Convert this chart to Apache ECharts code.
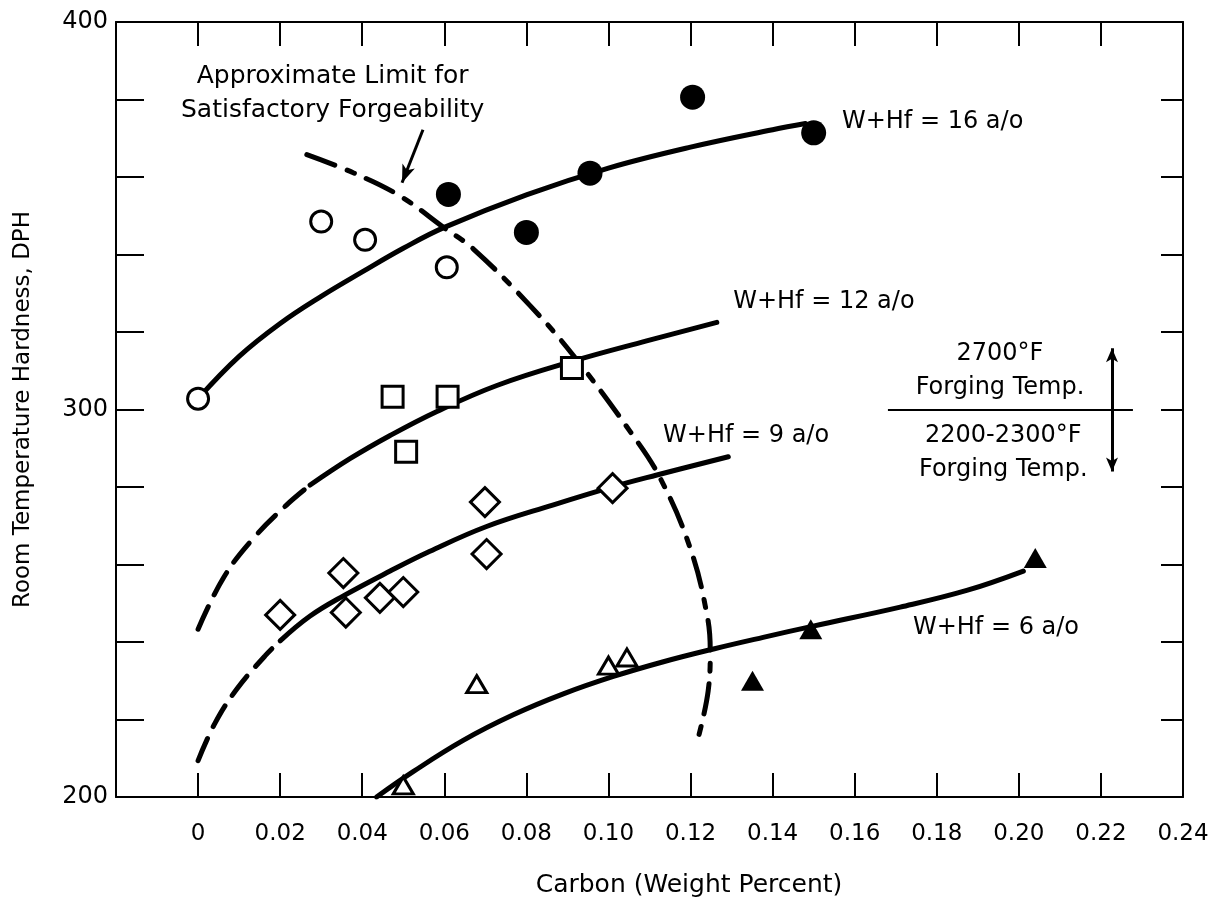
<!DOCTYPE html>
<html>
<head>
<meta charset="utf-8">
<script src="https://cdn.jsdelivr.net/npm/echarts@6/dist/echarts.min.js"></script>
<style>
  html, body { margin: 0; padding: 0; background: #fff; }
  #chart { width: 1219px; height: 903px; }
</style>
</head>
<body>
<div id="chart"></div>
<script>
// measured points, carbon (wt %) vs hardness (DPH)
const filledCircles = [[0.061, 355.5], [0.080, 345.7], [0.0955, 361.0], [0.1205, 380.6], [0.150, 371.4]]
const openCircles = [[0, 302.8], [0.030, 348.5], [0.0407, 343.8], [0.0606, 336.7]]
const openSquares = [[0.0474, 303.3], [0.0608, 303.3], [0.0507, 289.1], [0.0911, 310.7]]
const openDiamonds = [[0.020, 247.0], [0.0354, 257.8], [0.036, 247.6], [0.0443, 251.4], [0.050, 252.9], [0.0699, 276.1], [0.0703, 262.7], [0.101, 279.7]]
const openTriangles = [[0.0679, 229.1], [0.100, 233.9], [0.1045, 236.0], [0.050, 203.0]]
const filledTriangles = [[0.1351, 230.0], [0.1493, 243.3], [0.204, 261.7]]

// fitted curves
const curve16 = [[0, 302.8], [0.01, 313.7], [0.02, 322.2], [0.03, 329.2], [0.04, 335.5], [0.05, 341.6], [0.06, 347.0], [0.08, 355.4], [0.10, 362.3], [0.12, 367.7], [0.14, 372.2], [0.148, 373.8]]
const curve12Dashed = [[0, 243.3], [0.0062, 256.6], [0.0135, 266.8], [0.0216, 275.4], [0.0273, 280.5]]
const curve12 = [[0.0273, 280.5], [0.037, 287.3], [0.0468, 293.3], [0.0582, 299.5], [0.0728, 306.2], [0.0911, 312.4], [0.1093, 317.7], [0.1264, 322.5]]
const curve9Dashed = [[0, 209.4], [0.0041, 219.0], [0.0094, 227.8], [0.0163, 236.4], [0.020, 240.3]]
const curve9 = [[0.020, 240.3], [0.0273, 246.7], [0.0354, 251.9], [0.0468, 258.3], [0.0565, 263.4], [0.0703, 269.8], [0.0866, 275.4], [0.1012, 280.1], [0.1118, 283.1], [0.1292, 287.8]]
const curve6 = [[0.0435, 200.0], [0.0525, 206.6], [0.0646, 214.6], [0.0768, 221.2], [0.089, 226.6], [0.1012, 231.1], [0.1134, 234.9], [0.1256, 238.2], [0.1377, 241.2], [0.1499, 244.1], [0.1711, 249.0], [0.1873, 253.3], [0.2011, 258.3]]
const limitCurve = [[0.0265, 365.8], [0.0378, 361.1], [0.0492, 355.1], [0.0598, 347.0], [0.0671, 341.4], [0.0809, 326.8], [0.0914, 314.0], [0.1053, 294.3], [0.1126, 282.3], [0.1199, 264.3], [0.124, 247.1], [0.1248, 237.7], [0.1243, 227.4], [0.1219, 215.4]]

// text notes: [text, carbon, hardness]
const curveLabels = [
  ['W+Hf = 16 a/o', 0.1569, 374.3],
  ['W+Hf = 12 a/o', 0.1304, 327.8],
  ['W+Hf = 9 a/o', 0.1133, 293.3],
  ['W+Hf = 6 a/o', 0.1742, 243.7]
]
const centerNotes = [
  ['Approximate Limit for\nSatisfactory Forgeability', 0.0328, 381.6],
  ['2700°F\nForging Temp.', 0.1954, 309.9],
  ['2200-2300°F\nForging Temp.', 0.1962, 288.9]
]
// arrows and the 300 DPH divider: [x1, y1, x2, y2]
const limitArrow = [0.0548, 372.2, 0.0497, 358.5]
const tempArrow = [0.2227, 315.8, 0.2227, 284.0]
const divider = [0.1681, 300, 0.2278, 300]

const black = '#000'
const axisLine = { onZero: false, lineStyle: { color: black, width: 2 } }

function tick(len) {
  return { inside: true, length: len, lineStyle: { color: black, width: 2 } }
}

function curve(data, dash) {
  return {
    type: 'line',
    data: data,
    smooth: 0.4,
    symbol: 'none',
    silent: true,
    z: 2,
    lineStyle: { color: black, width: 5, type: dash || 'solid', cap: 'round', opacity: 1 }
  }
}

function marks(data, symbol, size, filled) {
  return {
    type: 'scatter',
    data: data,
    symbol: symbol,
    symbolSize: size,
    z: 5,
    itemStyle: filled
      ? { color: black, opacity: 1 }
      : { color: '#fff', borderColor: black, borderWidth: 3, opacity: 1 }
  }
}

const noteData = curveLabels.map(function (n) {
  return { value: [n[1], n[2]], label: { show: true, position: 'right', distance: 0, formatter: n[0] } }
}).concat(centerNotes.map(function (n, i) {
  return {
    value: [n[1], n[2]],
    label: { show: true, position: 'inside', formatter: n[0], align: 'center', lineHeight: 34, fontSize: i === 0 ? 25 : 24 }
  }
}))

const chart = echarts.init(document.getElementById('chart'))
chart.setOption({
  animation: false,
  backgroundColor: '#fff',
  textStyle: { fontFamily: 'DejaVu Sans', color: black },
  grid: { left: 116, right: 36, top: 22, bottom: 103 },
  xAxis: [{
    type: 'value',
    position: 'bottom',
    min: -0.02,
    max: 0.24,
    interval: 0.02,
    name: 'Carbon (Weight Percent)',
    nameLocation: 'middle',
    nameGap: 76,
    nameTextStyle: { fontSize: 25, color: black, padding: [0, 0, 0, 79] },
    axisLine: axisLine,
    axisTick: tick(24),
    axisLabel: {
      fontSize: 23,
      color: black,
      margin: 26,
      formatter: function (v) {
        if (v < -0.001) return ''
        if (Math.abs(v) < 1e-6) return '0'
        return v.toFixed(2)
      }
    },
    splitLine: { show: false }
  }, {
    type: 'value',
    position: 'top',
    min: -0.02,
    max: 0.24,
    interval: 0.02,
    axisLine: axisLine,
    axisTick: tick(24),
    axisLabel: { show: false },
    splitLine: { show: false }
  }],
  yAxis: [{
    type: 'value',
    position: 'left',
    min: 200,
    max: 400,
    interval: 20,
    name: 'Room Temperature Hardness, DPH',
    nameLocation: 'middle',
    nameGap: 81,
    nameTextStyle: { fontSize: 23, color: black },
    axisLine: axisLine,
    axisTick: tick(28),
    axisLabel: {
      fontSize: 24,
      color: black,
      margin: 8,
      formatter: function (v) { return v % 100 === 0 ? String(v) : '' }
    },
    splitLine: { show: false }
  }, {
    type: 'value',
    position: 'right',
    min: 200,
    max: 400,
    interval: 20,
    axisLine: axisLine,
    axisTick: tick(22),
    axisLabel: { show: false },
    splitLine: { show: false }
  }],
  series: [
    curve(curve16),
    curve(curve12Dashed, [25, 13]),
    curve(curve12),
    curve(curve9Dashed, [24, 13]),
    curve(curve9),
    curve(curve6),
    curve(limitCurve, [30, 13, 8, 13]),
    marks(openCircles, 'circle', 21, false),
    marks(filledCircles, 'circle', 25, true),
    marks(openSquares, 'rect', 21, false),
    marks(openDiamonds, 'diamond', 29, false),
    marks(openTriangles, 'triangle', [20, 17], false),
    marks(filledTriangles, 'triangle', [23, 20], true),
    {
      type: 'scatter',
      data: noteData,
      symbolSize: 0,
      silent: true,
      z: 6,
      itemStyle: { opacity: 1 },
      label: { fontSize: 24, color: black, opacity: 1, fontFamily: 'DejaVu Sans' },
      markLine: {
        silent: true,
        animation: false,
        label: { show: false },
        data: [
          [{ coord: [limitArrow[0], limitArrow[1]], symbol: 'none' },
           { coord: [limitArrow[2], limitArrow[3]], symbol: 'arrow', symbolSize: [10, 18] }],
          [{ coord: [tempArrow[0], tempArrow[1]], symbol: 'arrow', symbolSize: [9, 14] },
           { coord: [tempArrow[2], tempArrow[3]], symbol: 'arrow', symbolSize: [9, 14] }],
          [{ coord: [divider[0], divider[1]], symbol: 'none', lineStyle: { width: 2 } },
           { coord: [divider[2], divider[3]], symbol: 'none' }]
        ],
        lineStyle: { color: black, width: 3, type: 'solid', opacity: 1 }
      }
    }
  ]
})
</script>
</body>
</html>
